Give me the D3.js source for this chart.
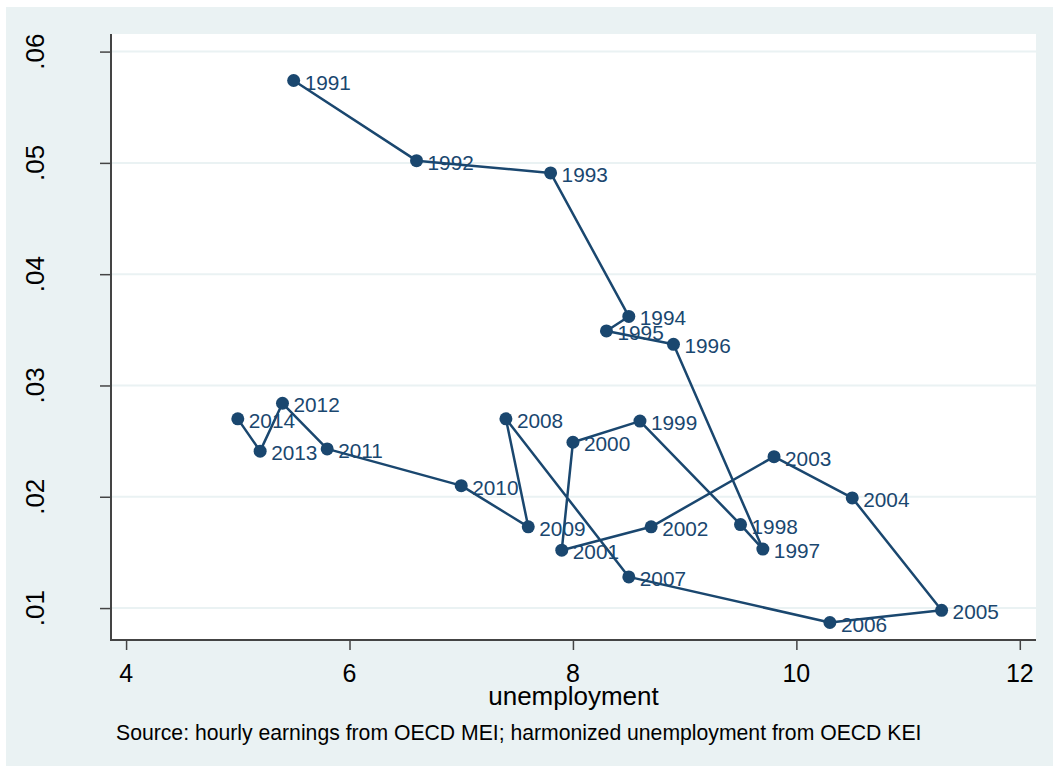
<!DOCTYPE html>
<html lang="en">
<head>
<meta charset="utf-8">
<script src="https://cdn.jsdelivr.net/npm/d3@7"></script>
<style>
  body { margin: 0; background: #fff; font-family: Arial, "Liberation Sans", sans-serif; }
  svg { display: block; }
</style>
</head>
<body>
<script>
// data: year, unemployment (%), hourly earnings growth
var years = [1991, 1992, 1993, 1994, 1995, 1996, 1997, 1998, 1999, 2000, 2001, 2002,
             2003, 2004, 2005, 2006, 2007, 2008, 2009, 2010, 2011, 2012, 2013, 2014];
var unemployment = [5.5, 6.6, 7.8, 8.5, 8.3, 8.9, 9.7, 9.5, 8.6, 8.0, 7.9, 8.7,
                    9.8, 10.5, 11.3, 10.3, 8.5, 7.4, 7.6, 7.0, 5.8, 5.4, 5.2, 5.0];
var earnings = [0.0574, 0.0502, 0.0491, 0.0362, 0.0349, 0.0337, 0.0153, 0.0175, 0.0268, 0.0249, 0.0152, 0.0173,
                0.0236, 0.0199, 0.0098, 0.0087, 0.0128, 0.0270, 0.0173, 0.0210, 0.0243, 0.0284, 0.0241, 0.0270];
var xTicks = [4, 6, 8, 10, 12];
var yTicks = [0.01, 0.02, 0.03, 0.04, 0.05, 0.06];
var yTickLabels = [".01", ".02", ".03", ".04", ".05", ".06"];
var xTitle = "unemployment";
var note = "Source: hourly earnings from OECD MEI; harmonized unemployment from OECD KEI";

function draw() {
  var W = 1053, H = 769;
  var navy = "#1a476f";
  // plot region
  var left = 111, right = 1036, top = 34, bottom = 640;

  var svg = d3.select("body").append("svg").attr("width", W).attr("height", H);
  // outer graph background
  svg.append("rect").attr("x", 6).attr("y", 7).attr("width", W - 6).attr("height", 759)
     .attr("fill", "#eaf2f3");
  svg.append("rect").attr("x", left).attr("y", top).attr("width", right - left).attr("height", bottom - top)
     .attr("fill", "#fff");

  var x = d3.scaleLinear().domain([3.865, 12.145]).range([left, right]);
  var y = d3.scaleLinear().domain([0.00713, 0.06158]).range([bottom, top]);

  // grid lines
  svg.append("g").selectAll("line").data(yTicks).enter().append("line")
     .attr("x1", left).attr("x2", right)
     .attr("y1", function(d){ return y(d); }).attr("y2", function(d){ return y(d); })
     .attr("stroke", "#eaf2f3").attr("stroke-width", 2);

  // y axis
  var yAxis = svg.append("g").attr("transform", "translate(" + left + ",0)")
     .call(d3.axisLeft(y).tickValues(yTicks).tickSize(11).tickFormat(""));
  yAxis.select(".domain").remove();
  yAxis.selectAll(".tick line").attr("stroke", "#444").attr("stroke-width", 1.5);
  svg.append("line").attr("x1", left).attr("x2", left).attr("y1", top).attr("y2", bottom + 1)
     .attr("stroke", "#444").attr("stroke-width", 2);
  svg.append("g").selectAll("text").data(yTicks).enter().append("text")
     .attr("transform", function(d){ return "translate(44," + y(d) + ") rotate(-90)"; })
     .attr("text-anchor", "middle")
     .style("font-size", "26px").attr("fill", "#000")
     .text(function(d, i){ return yTickLabels[i]; });

  // x axis
  var xAxis = svg.append("g").attr("transform", "translate(0," + bottom + ")")
     .call(d3.axisBottom(x).tickValues(xTicks).tickSize(10).tickFormat(""));
  xAxis.select(".domain").remove();
  xAxis.selectAll(".tick line").attr("stroke", "#444").attr("stroke-width", 1.5);
  svg.append("line").attr("x1", left - 1).attr("x2", right).attr("y1", bottom).attr("y2", bottom)
     .attr("stroke", "#444").attr("stroke-width", 2);
  svg.append("g").selectAll("text").data(xTicks).enter().append("text")
     .attr("x", function(d){ return x(d); }).attr("y", 682)
     .attr("text-anchor", "middle")
     .style("font-size", "25px").attr("fill", "#000")
     .text(function(d){ return d; });

  svg.append("text").attr("x", (left + right) / 2).attr("y", 705)
     .attr("text-anchor", "middle").style("font-size", "26px").attr("fill", "#000")
     .text(xTitle);
  svg.append("text").attr("x", 116).attr("y", 740)
     .style("font-size", "21.2px").attr("fill", "#000")
     .text(note);

  // connected line
  var pts = years.map(function(yr, i){ return { year: yr, u: unemployment[i], e: earnings[i] }; });
  var line = d3.line().x(function(d){ return x(d.u); }).y(function(d){ return y(d.e); });
  svg.append("path").datum(pts).attr("d", line)
     .attr("fill", "none").attr("stroke", navy).attr("stroke-width", 2.5).attr("stroke-linejoin", "round");

  svg.append("g").selectAll("circle").data(pts).enter().append("circle")
     .attr("cx", function(d){ return x(d.u); }).attr("cy", function(d){ return y(d.e); })
     .attr("r", 6.5).attr("fill", navy);

  svg.append("g").selectAll("text").data(pts).enter().append("text")
     .attr("x", function(d){ return x(d.u) + 11; }).attr("y", function(d){ return y(d.e) + 9; })
     .style("font-size", "20.8px").attr("fill", navy)
     .text(function(d){ return d.year; });
}
draw();
</script>
</body>
</html>
